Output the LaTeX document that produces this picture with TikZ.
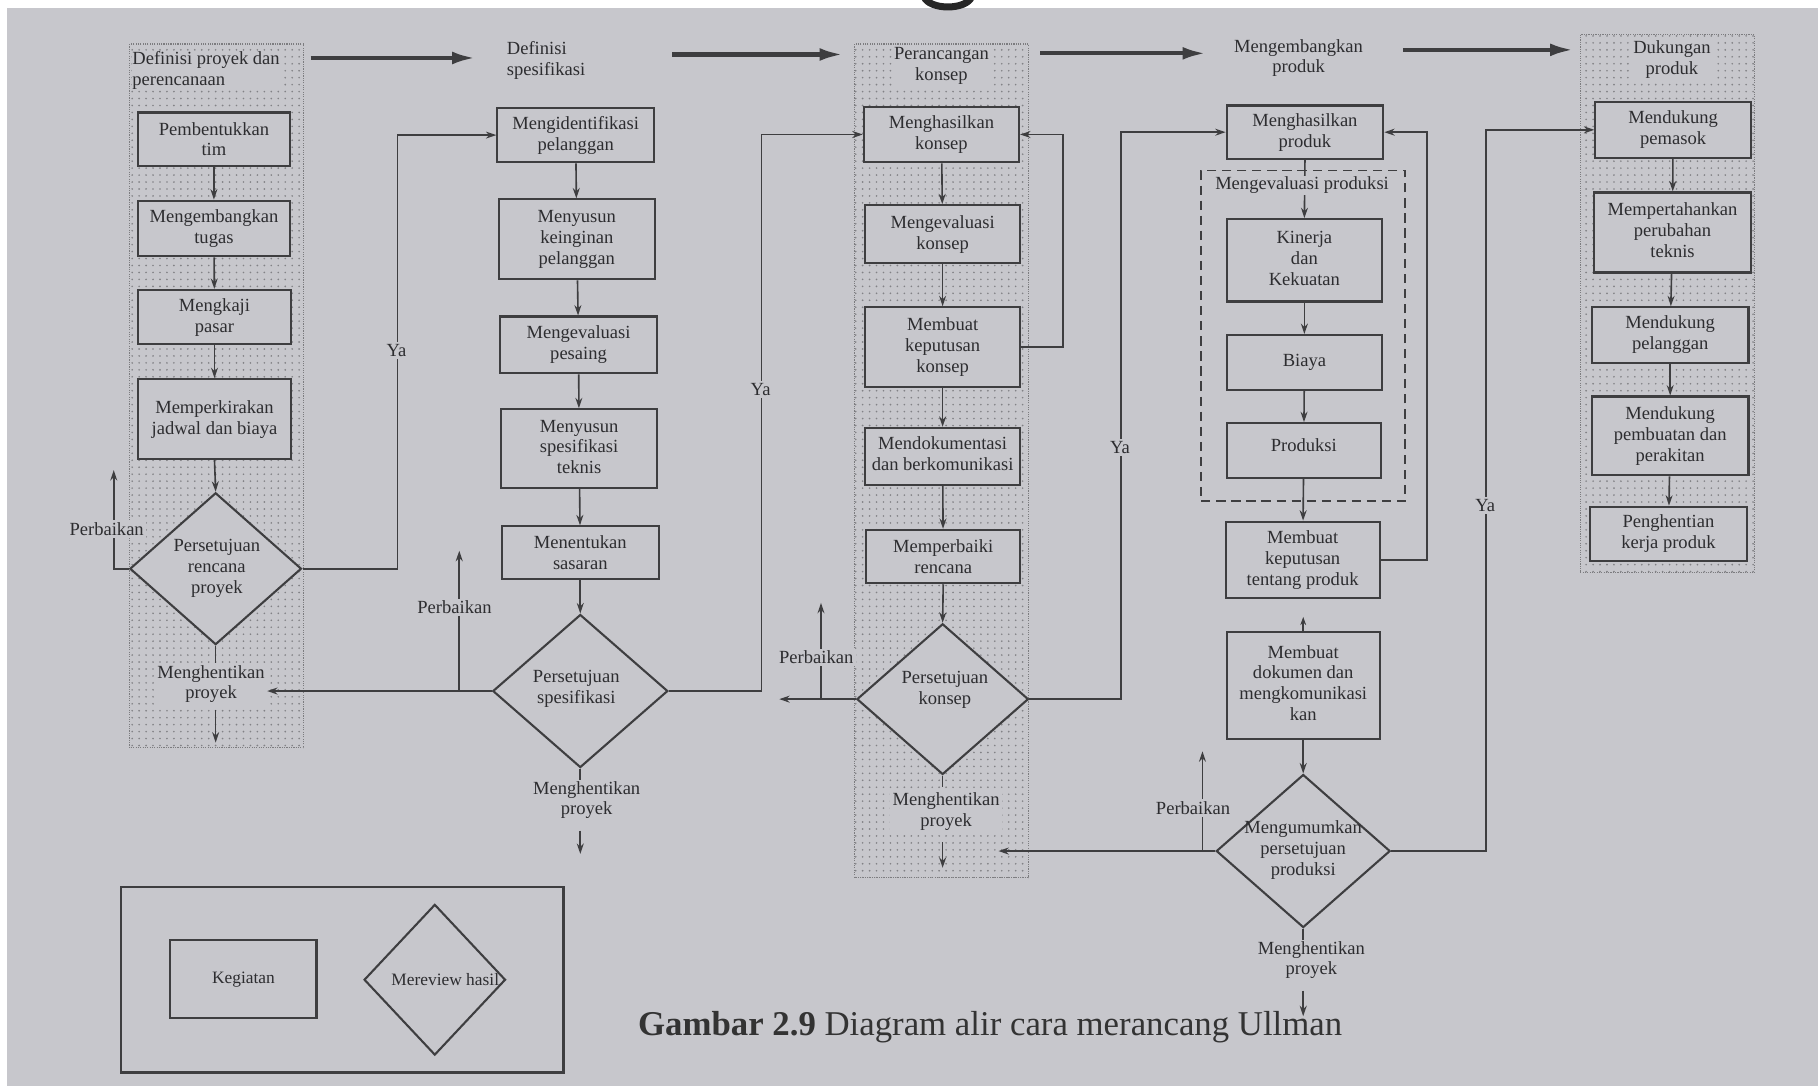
\documentclass[tikz,border=0pt]{standalone}
\usepackage{fontspec}
\setmainfont{Liberation Serif}
\usetikzlibrary{arrows.meta,shapes.geometric,calc,patterns.meta}
\definecolor{paper}{RGB}{199,199,204}
\definecolor{ink}{RGB}{62,62,64}
\definecolor{txt}{RGB}{45,45,48}
\newcommand\rtxt[2]{\raisebox{#1}{\begin{tabular}{@{}c@{}}#2\end{tabular}}}
\begin{document}
\begin{tikzpicture}[x=1pt,y=-1pt,
  every node/.style={font=\fontsize{16}{18}\selectfont, text=txt},
  box/.style={draw=ink, line width=1.8pt, fill=paper, rectangle, inner sep=0pt, align=center},
  dia/.style={draw=ink, line width=1.8pt, fill=paper, diamond, inner sep=0pt},
  lbl/.style={fill=paper, inner sep=2pt, align=center},
  txtnode/.style={inner sep=0pt, align=center},
  arr/.style={draw=ink, line width=1.4pt, -{Stealth[length=9pt,width=6pt]}},
  ln/.style={draw=ink, line width=1.4pt},
  harrow/.style={draw=ink, line width=3.5pt, -{Latex[length=20pt,width=11pt]}},
  halftone/.style={pattern={Dots[distance=6pt,radius=0.8pt]}, pattern color=ink!50!paper},
]
\useasboundingbox (0,0) rectangle (1568,937);
\fill[white] (0,0) rectangle (1568,937);
\fill[paper] (6,7) rectangle (1568,937);
\draw[line width=6pt, black!85] (797,-3) .. controls (801,9) and (834,9) .. (838,-3);

% halftone columns
\path[halftone] (112,38) rectangle (262,645);
\path[halftone] (737,38) rectangle (887,757);
\path[halftone] (1363,30) rectangle (1513,494);
\draw[ink!55!paper, densely dotted, line width=1pt] (112,38) rectangle (262,645);
\draw[ink!55!paper, densely dotted, line width=1pt] (737,38) rectangle (887,757);
\draw[ink!55!paper, densely dotted, line width=1pt] (1363,30) rectangle (1513,494);

% titles
\node[txtnode, align=left, anchor=west, fill=paper] (t1) at (114,61) {Definisi proyek dan\\perencanaan};
\node[txtnode, align=left, anchor=west] (t2) at (437,52) {Definisi\\spesifikasi};
\node[txtnode, fill=paper, inner sep=2pt] (t3) at (812,57) {Perancangan\\konsep};
\node[txtnode] (t4) at (1120,50) {Mengembangkan\\produk};
\node[txtnode, fill=paper, inner sep=2pt] (t5) at (1442,51) {Dukungan\\produk};
\coordinate (a1s) at (268,50); \coordinate (a1e) at (410,50);
\coordinate (a2s) at (580,47); \coordinate (a2e) at (727,47);
\coordinate (a3s) at (897,46); \coordinate (a3e) at (1040,46);
\coordinate (a4s) at (1210,43); \coordinate (a4e) at (1357,43);
\draw[harrow] (a1s) -- (a1e);
\draw[harrow] (a2s) -- (a2e);
\draw[harrow] (a3s) -- (a3e);
\draw[harrow] (a4s) -- (a4e);

% column 1
\node[box, minimum width=131, minimum height=46] (b11) at (184.5,120) {Pembentukkan\\tim};
\node[box, minimum width=131, minimum height=48] (b12) at (184.5,197) {Mengembangkan\\tugas};
\node[box, minimum width=132, minimum height=47] (b13) at (185,273.5) {Mengkaji\\pasar};
\node[box, minimum width=132, minimum height=69] (b14) at (185,361.5) {Memperkirakan\\jadwal dan biaya};
\node[dia, minimum width=148, minimum height=131] (d1) at (186,490.5) {};
\node[txtnode] (d1t) at (187,490) {Persetujuan\\rencana\\proyek};
\node[txtnode, fill=paper, inner sep=2pt] (m1) at (182,590) {Menghentikan\\proyek};

% column 2
\node[box, minimum width=135, minimum height=47] (b21) at (496.5,116.5) {Mengidentifikasi\\pelanggan};
\node[box, minimum width=135, minimum height=69] (b22) at (497.5,206.5) {\rtxt{3pt}{Menyusun\\keinginan\\pelanggan}};
\node[box, minimum width=136, minimum height=49] (b23) at (499,297.5) {Mengevaluasi\\pesaing};
\node[box, minimum width=135, minimum height=68] (b24) at (499.5,387) {\rtxt{3pt}{Menyusun\\spesifikasi\\teknis}};
\node[box, minimum width=135, minimum height=45] (b25) at (500.5,476.5) {Menentukan\\sasaran};
\node[dia, minimum width=151, minimum height=132] (d2) at (500.5,596) {};
\node[txtnode] (d2t) at (497,594) {Persetujuan\\spesifikasi};
\node[txtnode] (m2) at (506,690) {Menghentikan\\proyek};

% column 3
\node[box, minimum width=134, minimum height=48] (b31) at (812,116) {Menghasilkan\\konsep};
\node[box, minimum width=134, minimum height=50] (b32) at (813,202) {Mengevaluasi\\konsep};
\node[box, minimum width=134, minimum height=69] (b33) at (813,299.5) {Membuat\\keputusan\\konsep};
\node[box, minimum width=134, minimum height=49] (b34) at (813,393.5) {\rtxt{3pt}{Mendokumentasi\\dan berkomunikasi}};
\node[box, minimum width=133, minimum height=46] (b35) at (813.5,480) {Memperbaiki\\rencana};
\node[dia, minimum width=148, minimum height=130] (d3) at (813,603) {};
\node[txtnode] (d3t) at (815,595) {Persetujuan\\konsep};
\node[txtnode, fill=paper, inner sep=2pt] (m3) at (816,700) {Menghentikan\\proyek};

% column 4
\node[draw=ink, line width=1.6pt, dash pattern=on 8pt off 5pt, minimum width=176, minimum height=285, inner sep=0pt] (grp) at (1124,289.5) {};
\node[box, minimum width=135, minimum height=46] (b41) at (1125.5,114) {Menghasilkan\\produk};
\node[box, minimum width=134, minimum height=71] (b42) at (1125,224.5) {\rtxt{7pt}{Kinerja\\dan\\Kekuatan}};
\node[box, minimum width=134, minimum height=47] (b43) at (1125,312.5) {\raisebox{4pt}{Biaya}};
\node[box, minimum width=133, minimum height=47] (b44) at (1124.5,388.5) {\raisebox{9pt}{Produksi}};
\node[box, minimum width=133, minimum height=66] (b45) at (1123.5,483) {\rtxt{4pt}{Membuat\\keputusan\\tentang produk}};
\node[box, minimum width=132, minimum height=92] (b46) at (1124,591) {\rtxt{9pt}{Membuat\\dokumen dan\\mengkomunikasi\\kan}};
\node[dia, minimum width=150, minimum height=132] (d4) at (1124,734) {};
\node[txtnode] (d4t) at (1124,733) {Mengumumkan\\persetujuan\\produksi};
\node[txtnode] (m4) at (1131,828) {Menghentikan\\proyek};

% column 5
\node[box, minimum width=134, minimum height=48] (b51) at (1443,112) {Mendukung\\pemasok};
\node[box, minimum width=135, minimum height=69] (b52) at (1442.5,200.5) {\rtxt{7pt}{Mempertahankan\\perubahan\\teknis}};
\node[box, minimum width=135, minimum height=48] (b53) at (1440.5,289) {\rtxt{2pt}{Mendukung\\pelanggan}};
\node[box, minimum width=135, minimum height=68] (b54) at (1440.5,376) {\rtxt{6pt}{Mendukung\\pembuatan dan\\perakitan}};
\node[box, minimum width=136, minimum height=47] (b55) at (1439,460.5) {Penghentian\\kerja produk};

% vertical flows
\draw[arr] (b11) -- (b12);
\draw[arr] (b12) -- (b13);
\draw[arr] (b13) -- (b14);
\draw[arr] (b14.south) -- (d1.north);
\draw[arr] (b21) -- (b22);
\draw[arr] (b22) -- (b23);
\draw[arr] (b23) -- (b24);
\draw[arr] (b24) -- (b25);
\draw[arr] (b25.south) -- (d2.north);
\draw[arr] (b31) -- (b32);
\draw[arr] (b32) -- (b33);
\draw[arr] (b33) -- (b34);
\draw[arr] (b34) -- (b35);
\draw[arr] (b35.south) -- (d3.north);
\draw[arr] (b41.south) -- (b42.north);
\draw[arr] (b42) -- (b43);
\draw[arr] (b43) -- (b44);
\draw[arr] (b44) -- (b45);
\draw[arr, -{Stealth[length=7pt,width=5pt]}] (b46.north) -- ++(0,-12);
\draw[arr] (b46.south) -- (d4.north);
\draw[arr] (b51) -- (b52);
\draw[arr] (b52) -- (b53);
\draw[arr] (b53) -- (b54);
\draw[arr] (b54) -- (b55);

% feedback loops
\draw[arr] (b33.east) -- ++(36,0) |- (b31.east);
\draw[arr] (b45.east) -- ++(40,0) |- (b41.east);

% stop branches
\draw[ln] (d1.south) -- (d1.south |- m1.north);
\draw[arr] (d1.south |- m1.south) ++(0,4) -- ++(0,28);
\draw[ln] (d2.south) -- ++(0,10);
\draw[arr] (d2.south |- m2.south) ++(0,10) -- ++(0,20);
\draw[ln] (d3.south) -- ++(0,10);
\draw[arr] (d3.south |- m3.south) ++(0,8) -- ++(0,22);
\draw[ln] (d4.south) -- ++(0,10);
\draw[arr] (d4.south |- m4.south) ++(0,10) -- ++(0,22);

% left (Perbaikan / stop) branches
\draw[arr] (d1.west) -- ++(-13,0) -- ++(0,-85);
\draw[arr] (d2.west) -- (d2.west -| m1.east);
\draw[arr] ($(d2.west)+(-28,0)$) -- ++(0,-121);
\draw[arr] (d3.west) -- ++(-66,0);
\draw[arr] ($(d3.west)+(-30,0)$) -- ++(0,-83);
\draw[arr] (d4.west) -- ++(-187,0);
\draw[arr] ($(d4.west)+(-11,0)$) -- ++(0,-86);

% Ya branches
\draw[arr] (d1.east) -- ++(82,0) |- (b21.west);
\draw[arr] (d2.east) -- ++(80,0) |- (b31.west);
\draw[arr] (d3.east) -- ++(79,0) |- (b41.west);
\draw[arr] (d4.east) -- ++(82,0) |- (b51.west);

% labels on lines
\node[lbl] (p1) at (92,456) {Perbaikan};
\node[lbl] (p2) at (392,524) {Perbaikan};
\node[lbl] (p3) at (704,567) {Perbaikan};
\node[lbl] (p4) at (1029,697) {Perbaikan};
\node[lbl] (y1) at (342,302) {Ya};
\node[lbl] (y2) at (656,336) {Ya};
\node[lbl] (y3) at (966,386) {Ya};
\node[lbl] (y4) at (1281,436) {Ya};
\node[lbl, inner sep=1pt] (grpl) at (1123,160) {Mengevaluasi produksi};

% legend
\node[draw=ink, line width=1.8pt, minimum width=382, minimum height=160, inner sep=0pt] (leg) at (295,845) {};
\node[box, minimum width=126, minimum height=67, font=\fontsize{15}{17}\selectfont] (lk) at (210,844.5) {Kegiatan};
\node[dia, minimum width=122, minimum height=130] (ld) at (375,845) {};
\node[txtnode, font=\fontsize{15}{17}\selectfont] (ldt) at (384,845) {Mereview hasil};

% caption
\node[txtnode, font=\fontsize{30}{34}\selectfont, text=black!80] (cap) at (854,886) {\textbf{Gambar 2.9} Diagram alir cara merancang Ullman};
\end{tikzpicture}
\end{document}
